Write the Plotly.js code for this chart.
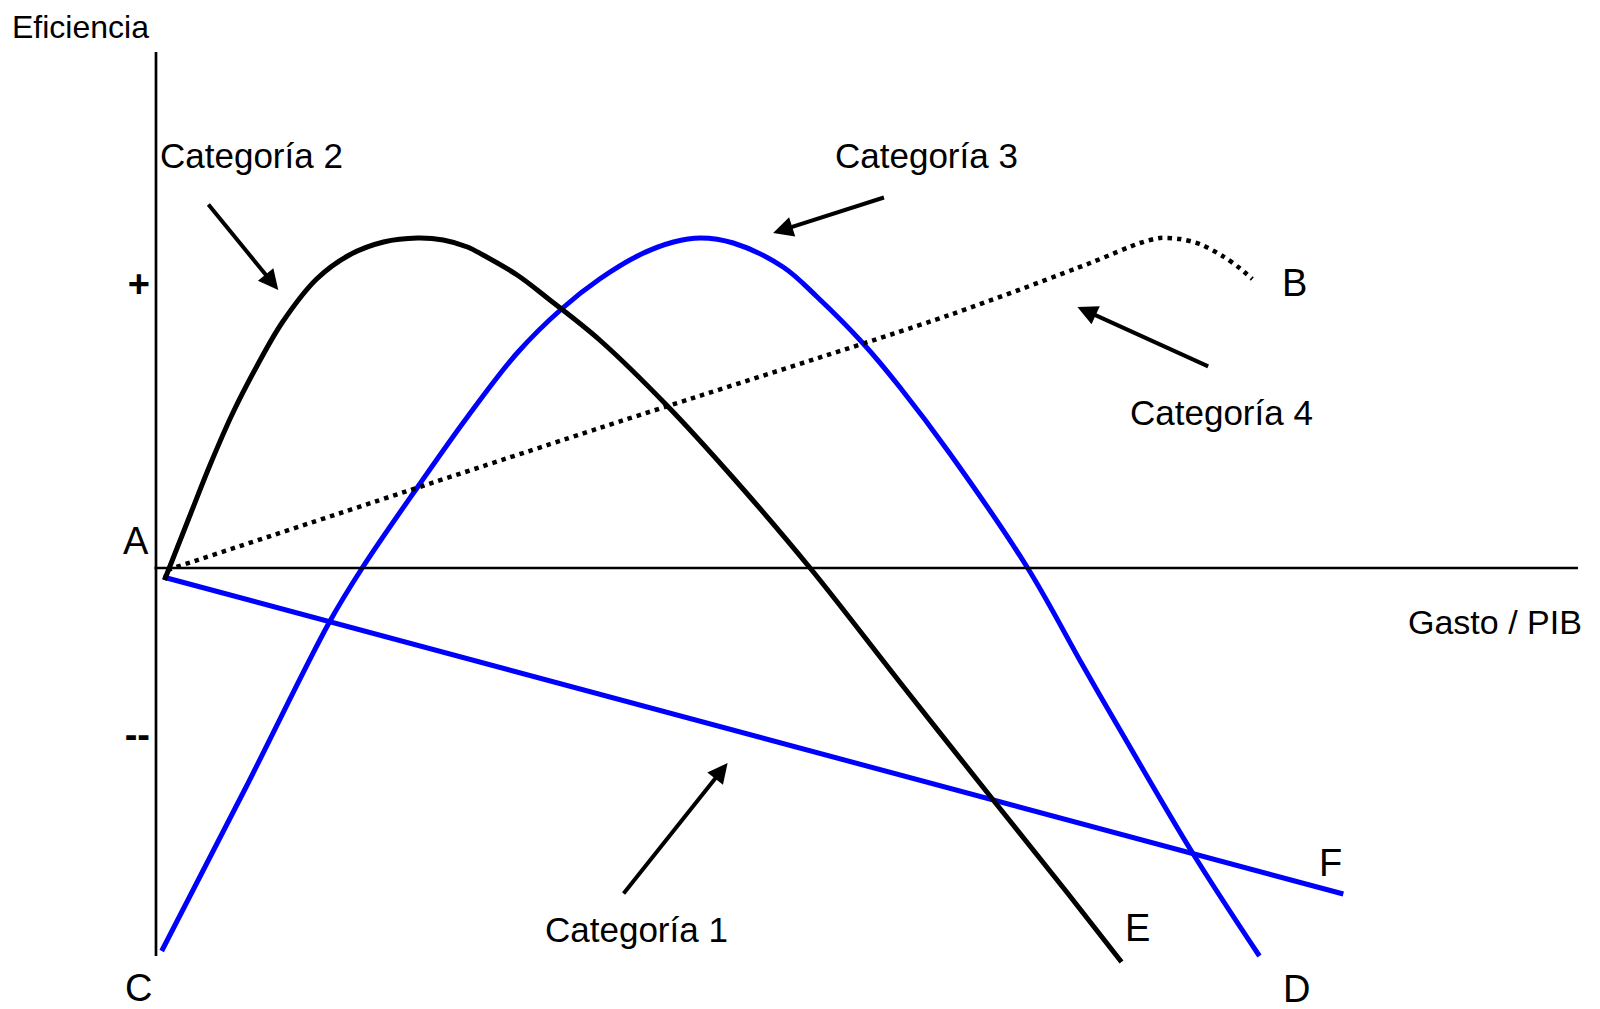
<!DOCTYPE html>
<html>
<head>
<meta charset="utf-8">
<script src="https://cdn.plot.ly/plotly-3.0.1.min.js"></script>
<style>
  body { margin: 0; background: #fff; }
  #chart { width: 1600px; height: 1009px; }
</style>
</head>
<body>
<div id="chart"></div>
<script>
// Gasto / PIB on x, Eficiencia on y (origin A = 0,0)

// Categoría 1: straight falling line A -> F
var cat1X = [0.05, 8.35];
var cat1Y = [-0.09, -3.26];

// Categoría 2: black curve A -> E
var cat2X = [0.06, 0.24, 0.38, 0.54, 0.71, 0.89, 1.13, 1.36, 1.60, 1.84, 2.02, 2.19, 2.30, 2.54, 2.77, 3.12, 3.59, 4.06, 4.60, 5.23, 5.91, 6.41, 6.79];
var cat2Y = [-0.12, 0.53, 1.03, 1.55, 2.02, 2.46, 2.89, 3.13, 3.26, 3.30, 3.28, 3.21, 3.13, 2.93, 2.68, 2.28, 1.63, 0.90, 0.00, -1.14, -2.36, -3.25, -3.94];

// Categoría 3: blue curve C -> D
var cat3X = [0.04, 0.63, 1.22, 1.45, 1.84, 2.19, 2.54, 2.86, 3.12, 3.40, 3.64, 3.83, 4.06, 4.41, 4.65, 4.97, 5.23, 5.58, 6.13, 6.52, 6.78, 7.29, 7.76];
var cat3Y = [-3.83, -2.20, -0.54, 0.00, 0.81, 1.51, 2.15, 2.60, 2.89, 3.13, 3.26, 3.30, 3.25, 3.01, 2.71, 2.25, 1.81, 1.15, 0.00, -0.98, -1.62, -2.85, -3.88];

// Categoría 4: dotted line A -> B
var cat4X = [0.08, 3.12, 5.58, 6.57, 6.92, 7.06, 7.20, 7.34, 7.50, 7.62, 7.71];
var cat4Y = [-0.02, 1.40, 2.53, 3.05, 3.25, 3.30, 3.29, 3.24, 3.12, 3.00, 2.89];

// y tick labels
var yTickVals = [2.84, -1.67];
var yTickText = ["+", "--"];

var font = "Liberation Sans, Arial, sans-serif";

var data = [
    {x: cat1X, y: cat1Y, mode: "lines", line: {color: "#0000ff", width: 5}},
    {x: cat3X, y: cat3Y, mode: "lines", line: {color: "#0000ff", width: 5, shape: "spline", smoothing: 1}},
    {x: cat2X, y: cat2Y, mode: "lines", line: {color: "#000000", width: 5, shape: "spline", smoothing: 1}},
    {x: cat4X, y: cat4Y, mode: "lines", line: {color: "#000000", width: 4.5, dash: "4.5px,5px", shape: "spline", smoothing: 0.8}}
];

function label(txt, x, y, size) {
    return {text: txt, x: x, y: y, xref: "x", yref: "y", showarrow: false,
            font: {family: font, size: size || 38, color: "#000"}};
}
function arrow(x, y, ax, ay) {
    return {text: "", x: x, y: y, ax: ax, ay: ay, xref: "x", yref: "y", axref: "x", ayref: "y",
            showarrow: true, arrowhead: 2, arrowsize: 1, arrowwidth: 4, arrowcolor: "#000", standoff: 0};
}

var annotations = [
    label("Eficiencia", -0.53, 5.41, 32),
    label("Gasto / PIB", 9.42, -0.54, 34),
    label("Categoría 2", 0.675, 4.13, 35),
    label("Categoría 3", 5.42, 4.13, 35),
    label("Categoría 4", 7.49, 1.56, 35),
    label("Categoría 1", 3.38, -3.61, 35),
    label("A", -0.14, 0.27),
    label("B", 8.01, 2.85),
    label("C", -0.12, -4.20),
    label("D", 8.02, -4.21),
    label("E", 6.90, -3.60),
    label("F", 8.26, -2.95),
    arrow(0.86, 2.78, 0.36, 3.65),
    arrow(4.34, 3.35, 5.13, 3.71),
    arrow(6.48, 2.61, 7.41, 2.01),
    arrow(4.02, -1.95, 3.28, -3.27)
];

var layout = {
    width: 1600,
    height: 1009,
    margin: {l: 0, r: 0, t: 0, b: 0},
    paper_bgcolor: "#ffffff",
    plot_bgcolor: "#ffffff",
    showlegend: false,
    xaxis: {range: [-1.097, 10.155], visible: false, fixedrange: true},
    yaxis: {
        range: [-4.41, 5.68],
        anchor: "free",
        position: 0.0975,
        showgrid: false,
        zeroline: false,
        showline: false,
        ticks: "",
        tickvals: yTickVals,
        ticktext: yTickText,
        ticklabelstandoff: 6,
        tickfont: {family: font, size: 38, color: "#000", weight: "bold"},
        fixedrange: true
    },
    shapes: [
        {type: "line", xref: "x", yref: "y", x0: 0, x1: 0, y0: 5.16, y1: -3.88, line: {color: "#000", width: 2.7}},
        {type: "line", xref: "x", yref: "y", x0: -0.01, x1: 10.0, y0: 0, y1: 0, line: {color: "#000", width: 2.7}}
    ],
    annotations: annotations
};

Plotly.newPlot("chart", data, layout, {displayModeBar: false, staticPlot: true});
</script>
</body>
</html>
